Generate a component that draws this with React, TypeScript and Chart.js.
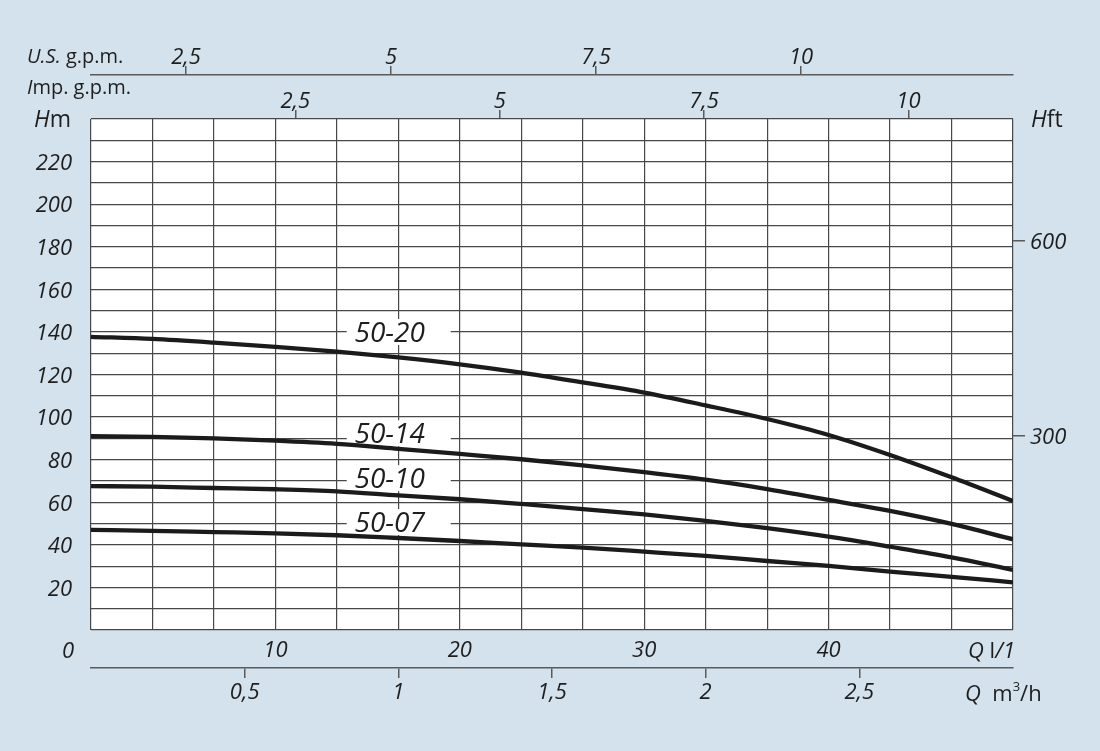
import React, { useEffect, useRef } from 'react';
import { Chart, registerables } from 'chart.js';

Chart.register(...registerables);

// ---- data ----
const flowLpm = [0, 3.33, 6.67, 10, 13.33, 16.67, 20, 23.33, 26.67, 30, 33.33, 36.67, 40, 43.33, 46.67, 50];
const head5020 = [137.7, 136.7, 135.0, 133.0, 130.7, 128.0, 124.8, 120.9, 116.3, 111.5, 105.5, 99.1, 91.6, 82.2, 71.7, 60.6];
const head5014 = [91.1, 90.7, 90.0, 88.9, 87.4, 85.1, 82.7, 80.2, 77.3, 74.1, 70.6, 66.2, 61.1, 55.9, 49.8, 42.6];
const head5010 = [67.6, 67.3, 66.7, 66.1, 65.1, 63.2, 61.4, 59.2, 56.8, 54.3, 51.3, 47.8, 43.8, 39.1, 34.1, 28.2];
const head5007 = [47.0, 46.6, 46.0, 45.4, 44.5, 43.2, 41.8, 40.2, 38.7, 36.8, 34.8, 32.4, 30.1, 27.4, 25.0, 22.4];
const seriesNames = ['50-20', '50-14', '50-10', '50-07'];
const seriesHeads = [head5020, head5014, head5010, head5007];
const nameLabelHeads = [140.0, 92.4, 71.3, 50.7];
const nameLabelFlow = 16.2;

const lpmTicks = [10, 20, 30, 40];
const m3hTicks = [0.5, 1, 1.5, 2, 2.5];
const usGpmTicks = [2.5, 5, 7.5, 10];
const impGpmTicks = [2.5, 5, 7.5, 10];
const hftTicks = [300, 600];
const hmLabels = [20, 40, 60, 80, 100, 120, 140, 160, 180, 200, 220];

// axis ranges
const flowMax = 50;
const flowGridDivisions = 15;
const headMax = 240;
const headGridStep = 10;
const m3hMax = 3;
const impMin = 0, impMax = 11.28;
const usMin = 1.341, usMax = 12.585;
const ftPerM = 1 / 0.3048;

// ---- style ----
const BG = '#d3e2ec';
const GRID = '#484848';
const TICK = '#5a5a5a';
const TEXT = '#1e1e1e';
const FAMILY = '"Open Sans", "Noto Sans", sans-serif';
const tickFont = { family: FAMILY, size: 22, style: 'italic' as const, lineHeight: 1 };

const fmt = (v: number) => String(v).replace('.', ',');

type Run = { text: string; italic?: boolean; size: number; dy?: number };

function drawRuns(ctx: CanvasRenderingContext2D, x: number, y: number, runs: Run[], align: 'left' | 'right' = 'left') {
  const widths = runs.map((r) => {
    ctx.font = `${r.italic ? 'italic ' : ''}${r.size}px ${FAMILY}`;
    return ctx.measureText(r.text).width;
  });
  const total = widths.reduce((a, b) => a + b, 0);
  let cx = align === 'right' ? x - total : x;
  runs.forEach((r, i) => {
    ctx.font = `${r.italic ? 'italic ' : ''}${r.size}px ${FAMILY}`;
    ctx.fillText(r.text, cx, y + (r.dy || 0));
    cx += widths[i];
  });
}

const decorPlugin = {
  id: 'decor',
  beforeDraw(chart: any) {
    const { ctx, chartArea: ca } = chart;
    ctx.save();
    ctx.fillStyle = '#ffffff';
    ctx.fillRect(ca.left, ca.top, ca.right - ca.left, ca.bottom - ca.top);
    ctx.restore();
  },
  beforeDatasetsDraw(chart: any) {
    const { ctx } = chart;
    const xs = chart.scales.x;
    const ys = chart.scales.y;
    ctx.save();
    seriesNames.forEach((name, i) => {
      const cx = xs.getPixelForValue(nameLabelFlow);
      const cy = ys.getPixelForValue(nameLabelHeads[i]);
      ctx.fillStyle = '#ffffff';
      ctx.fillRect(cx - 43, cy - 13, 104, 26);
      ctx.fillStyle = TEXT;
      ctx.font = `italic 28px ${FAMILY}`;
      ctx.textAlign = 'center';
      ctx.textBaseline = 'alphabetic';
      ctx.fillText(name, cx, cy + 10);
    });
    ctx.restore();
  },
  afterDraw(chart: any) {
    const { ctx, chartArea: ca } = chart;
    ctx.save();
    ctx.fillStyle = TEXT;
    ctx.textBaseline = 'alphabetic';
    ctx.textAlign = 'left';
    drawRuns(ctx, ca.left - 64, ca.top - 56, [
      { text: 'U.S.', italic: true, size: 20 },
      { text: ' g.p.m.', size: 20 },
    ]);
    drawRuns(ctx, ca.left - 64, ca.top - 25, [
      { text: 'I', italic: true, size: 20 },
      { text: 'mp. g.p.m.', size: 20 },
    ]);
    drawRuns(ctx, ca.left - 20, ca.top + 8, [
      { text: 'H', italic: true, size: 23 },
      { text: 'm', size: 23 },
    ], 'right');
    drawRuns(ctx, ca.right + 18, ca.top + 8, [
      { text: 'H', italic: true, size: 23 },
      { text: 'ft', size: 23 },
    ]);
    drawRuns(ctx, ca.left - 17, ca.bottom + 28, [{ text: '0', italic: true, size: 22 }], 'right');
    drawRuns(ctx, ca.right + 2, ca.bottom + 28, [
      { text: 'Q', italic: true, size: 22 },
      { text: ' l', size: 22 },
      { text: '/1', italic: true, size: 22 },
    ], 'right');
    drawRuns(ctx, ca.right - 48, ca.bottom + 71, [
      { text: 'Q', italic: true, size: 22 },
      { text: '  m', size: 22 },
      { text: '3', size: 13, dy: -10 },
      { text: '/h', size: 22 },
    ]);
    ctx.restore();
  },
};

export default function App() {
  const ref = useRef<HTMLCanvasElement | null>(null);

  useEffect(() => {
    if (!ref.current) return;
    const datasets = seriesNames.map((name, i) => ({
      label: name,
      data: flowLpm.map((q, j) => ({ x: q, y: seriesHeads[i][j] })),
      borderColor: '#1b1b1b',
      borderWidth: 4.3,
      pointRadius: 0,
      fill: false,
      cubicInterpolationMode: 'monotone' as const,
      xAxisID: 'x',
      yAxisID: 'y',
    }));

    const chart = new Chart(ref.current, {
      type: 'line',
      data: { datasets },
      plugins: [decorPlugin],
      options: {
        animation: false,
        responsive: true,
        maintainAspectRatio: false,
        layout: { padding: 0 },
        plugins: { legend: { display: false }, tooltip: { enabled: false } },
        scales: {
          x: {
            type: 'linear',
            position: 'bottom',
            weight: 0,
            min: 0,
            max: flowMax,
            afterBuildTicks: (s: any) => {
              s.ticks = Array.from({ length: flowGridDivisions + 1 }, (_, i) => ({ value: (i * flowMax) / flowGridDivisions }));
            },
            afterFit: (s: any) => { s.height = 38; },
            grid: { color: GRID, lineWidth: 1.2, drawTicks: false },
            border: { display: false },
            ticks: {
              autoSkip: false,
              maxRotation: 0,
              minRotation: 0,
              padding: 10,
              font: tickFont,
              color: TEXT,
              callback: (v: any) => {
                const r = Math.round(Number(v));
                return Math.abs(Number(v) - r) < 0.01 && lpmTicks.includes(r) ? String(r) : '';
              },
            },
          },
          xm3: {
            type: 'linear',
            position: 'bottom',
            weight: 1,
            min: 0,
            max: m3hMax,
            afterBuildTicks: (s: any) => { s.ticks = m3hTicks.map((value) => ({ value })); },
            afterFit: (s: any) => { s.height = 83; },
            grid: { drawOnChartArea: false, drawTicks: true, tickLength: 10, color: TICK, lineWidth: 1.5 },
            border: { display: true, color: TICK, width: 1.5 },
            ticks: { autoSkip: false, maxRotation: 0, padding: 4, font: tickFont, color: TEXT, callback: (v: any) => fmt(Number(v)) },
          },
          ximp: {
            type: 'linear',
            position: 'top',
            weight: 1,
            min: impMin,
            max: impMax,
            afterBuildTicks: (s: any) => { s.ticks = impGpmTicks.map((value) => ({ value })); },
            afterFit: (s: any) => { s.height = 44; },
            grid: { drawOnChartArea: false, drawTicks: true, tickLength: 9, color: TICK, lineWidth: 1.5 },
            border: { display: false },
            ticks: { autoSkip: false, maxRotation: 0, padding: -3, font: tickFont, color: TEXT, callback: (v: any) => fmt(Number(v)) },
          },
          xus: {
            type: 'linear',
            position: 'top',
            weight: 2,
            min: usMin,
            max: usMax,
            afterBuildTicks: (s: any) => { s.ticks = usGpmTicks.map((value) => ({ value })); },
            afterFit: (s: any) => { s.height = 75; },
            grid: { drawOnChartArea: false, drawTicks: true, tickLength: 9, color: TICK, lineWidth: 1.5 },
            border: { display: true, color: TICK, width: 1.5 },
            ticks: { autoSkip: false, maxRotation: 0, padding: -3, font: tickFont, color: TEXT, callback: (v: any) => fmt(Number(v)) },
          },
          y: {
            type: 'linear',
            position: 'left',
            min: 0,
            max: headMax,
            afterBuildTicks: (s: any) => {
              s.ticks = Array.from({ length: headMax / headGridStep + 1 }, (_, i) => ({ value: i * headGridStep }));
            },
            afterFit: (s: any) => { s.width = 91; },
            grid: { color: GRID, lineWidth: 1.2, drawTicks: false },
            border: { display: false },
            ticks: {
              autoSkip: false,
              padding: 19,
              labelOffset: 2,
              font: tickFont,
              color: TEXT,
              callback: (v: any) => (hmLabels.includes(Number(v)) ? String(v) : ''),
            },
          },
          yft: {
            type: 'linear',
            position: 'right',
            min: 0,
            max: headMax * ftPerM,
            afterBuildTicks: (s: any) => { s.ticks = hftTicks.map((value) => ({ value })); },
            afterFit: (s: any) => { s.width = 87; },
            grid: { drawOnChartArea: false, drawTicks: true, tickLength: 12, color: TICK, lineWidth: 1.5 },
            border: { display: false },
            ticks: { autoSkip: false, padding: 5, labelOffset: 2, font: tickFont, color: TEXT, callback: (v: any) => String(v) },
          },
        },
      },
    });
    return () => chart.destroy();
  }, []);

  return (
    <div style={{ position: 'fixed', left: 0, top: 0, width: 1100, height: 751, background: BG }}>
      <canvas ref={ref} />
    </div>
  );
}
